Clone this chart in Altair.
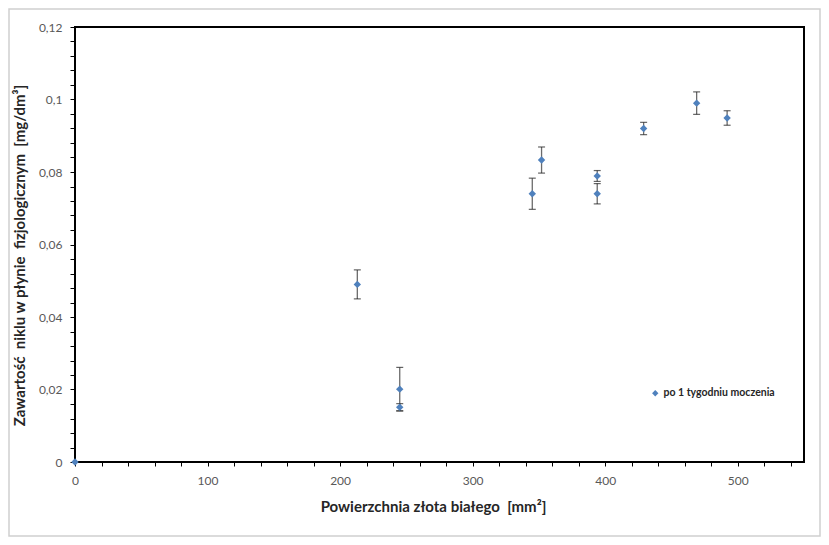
import altair as alt
import pandas as pd

# data
area = [0, 213, 245, 245, 345, 352, 394, 394, 429, 469, 492]
nickel = [0.0, 0.0490, 0.0201, 0.0151, 0.0740, 0.0833, 0.0789, 0.0740, 0.0920, 0.0990, 0.0949]
err = [0.0, 0.0040, 0.0060, 0.0010, 0.0043, 0.0036, 0.0015, 0.0028, 0.0017, 0.0031, 0.0020]
series = "po 1 tygodniu moczenia"

x_ticks = list(range(0, 560, 20))
y_ticks = [round(i * 0.004, 3) for i in range(0, 31)]

df = pd.DataFrame({"x": area, "y": nickel, "e": err})
df["lo"] = df["y"] - df["e"]
df["hi"] = df["y"] + df["e"]
df["s"] = series
df_err = df[df["e"] > 0]

W, H = 729, 435
FONT = "Lato"
NB = "\u00a0"

xs = alt.Scale(domain=[0, 550], nice=False, zero=False)
ys = alt.Scale(domain=[0, 0.12], nice=False, zero=False)

x_axis = alt.Axis(
    values=x_ticks, tickCount=60,
    labelExpr="datum.value % 100 == 0 ? toString(datum.value) : ''",
    labelOverlap=False, labelBound=False, labelFlush=False,
    title="Powierzchnia złota białego" + NB + NB + "[mm²]",
    grid=False, domain=False, tickSize=4, tickColor="#000", tickWidth=1,
    labelFont=FONT, labelFontSize=12, labelColor="#595959", labelPadding=9,
    titleFont=FONT, titleFontSize=15, titleFontWeight="bold", titleColor="#262626",
    titleY=44, titleX=358, titleBaseline="middle", titleAlign="center",
)
y_axis = alt.Axis(
    values=y_ticks, tickCount=60,
    labelExpr="round(datum.value*1000) % 20 == 0 ? replace(toString(round(datum.value*100)/100), '.', ',') : ''",
    labelOverlap=False, labelBound=False, labelFlush=False,
    title="Zawartość" + NB + NB + "niklu w płynie" + NB + NB + "fizjologicznym" + NB + NB + "[mg/dm³]",
    grid=False, domain=False, tickSize=5, tickColor="#000", tickWidth=1,
    labelFont=FONT, labelFontSize=12, labelColor="#595959", labelPadding=8,
    titleFont=FONT, titleFontSize=15, titleFontWeight="bold", titleColor="#262626",
    titleAngle=270, titleX=-56, titleY=228, titleBaseline="middle", titleAlign="center",
)

frame = alt.Chart(pd.DataFrame({"a": [0]})).mark_rect(
    fill=None, stroke="#d0d0d0", strokeWidth=1.5, clip=False
).encode(
    x=alt.value(-66), x2=alt.value(W + 16), y=alt.value(-18), y2=alt.value(H + 74)
)

rules = alt.Chart(df_err).mark_rule(color="#6b6b6b", strokeWidth=1.3).encode(
    x=alt.X("x:Q", scale=xs, axis=x_axis),
    y=alt.Y("lo:Q", scale=ys, axis=y_axis),
    y2="hi:Q",
)
cap_hi = alt.Chart(df_err).mark_tick(color="#222", thickness=1.2, size=7, orient="horizontal").encode(
    x=alt.X("x:Q", scale=xs), y=alt.Y("hi:Q", scale=ys)
)
cap_lo = alt.Chart(df_err).mark_tick(color="#222", thickness=1.2, size=7, orient="horizontal").encode(
    x=alt.X("x:Q", scale=xs), y=alt.Y("lo:Q", scale=ys)
)
pts = alt.Chart(df).mark_point(shape="diamond", filled=True, size=55, opacity=1, clip=False).encode(
    x=alt.X("x:Q", scale=xs),
    y=alt.Y("y:Q", scale=ys),
    color=alt.Color(
        "s:N",
        scale=alt.Scale(domain=[series], range=["#4f81bd"]),
        legend=alt.Legend(
            title=None, orient="none", legendX=575, legendY=361,
            symbolType="diamond", symbolSize=40, symbolOpacity=1,
            labelFont=FONT, labelFontSize=10.5, labelFontWeight="bold", labelColor="#262626",
            labelOffset=3,
        ),
    ),
)

chart = alt.layer(frame, rules, cap_hi, cap_lo, pts).properties(
    width=W, height=H,
    autosize=alt.AutoSizeParams(type="none"),
    padding={"left": 67, "top": 19, "right": 17, "bottom": 75},
    background="white",
).configure_view(stroke="#000", strokeWidth=2)

chart.save("out.html", embed_options={"renderer": "svg", "actions": False})
